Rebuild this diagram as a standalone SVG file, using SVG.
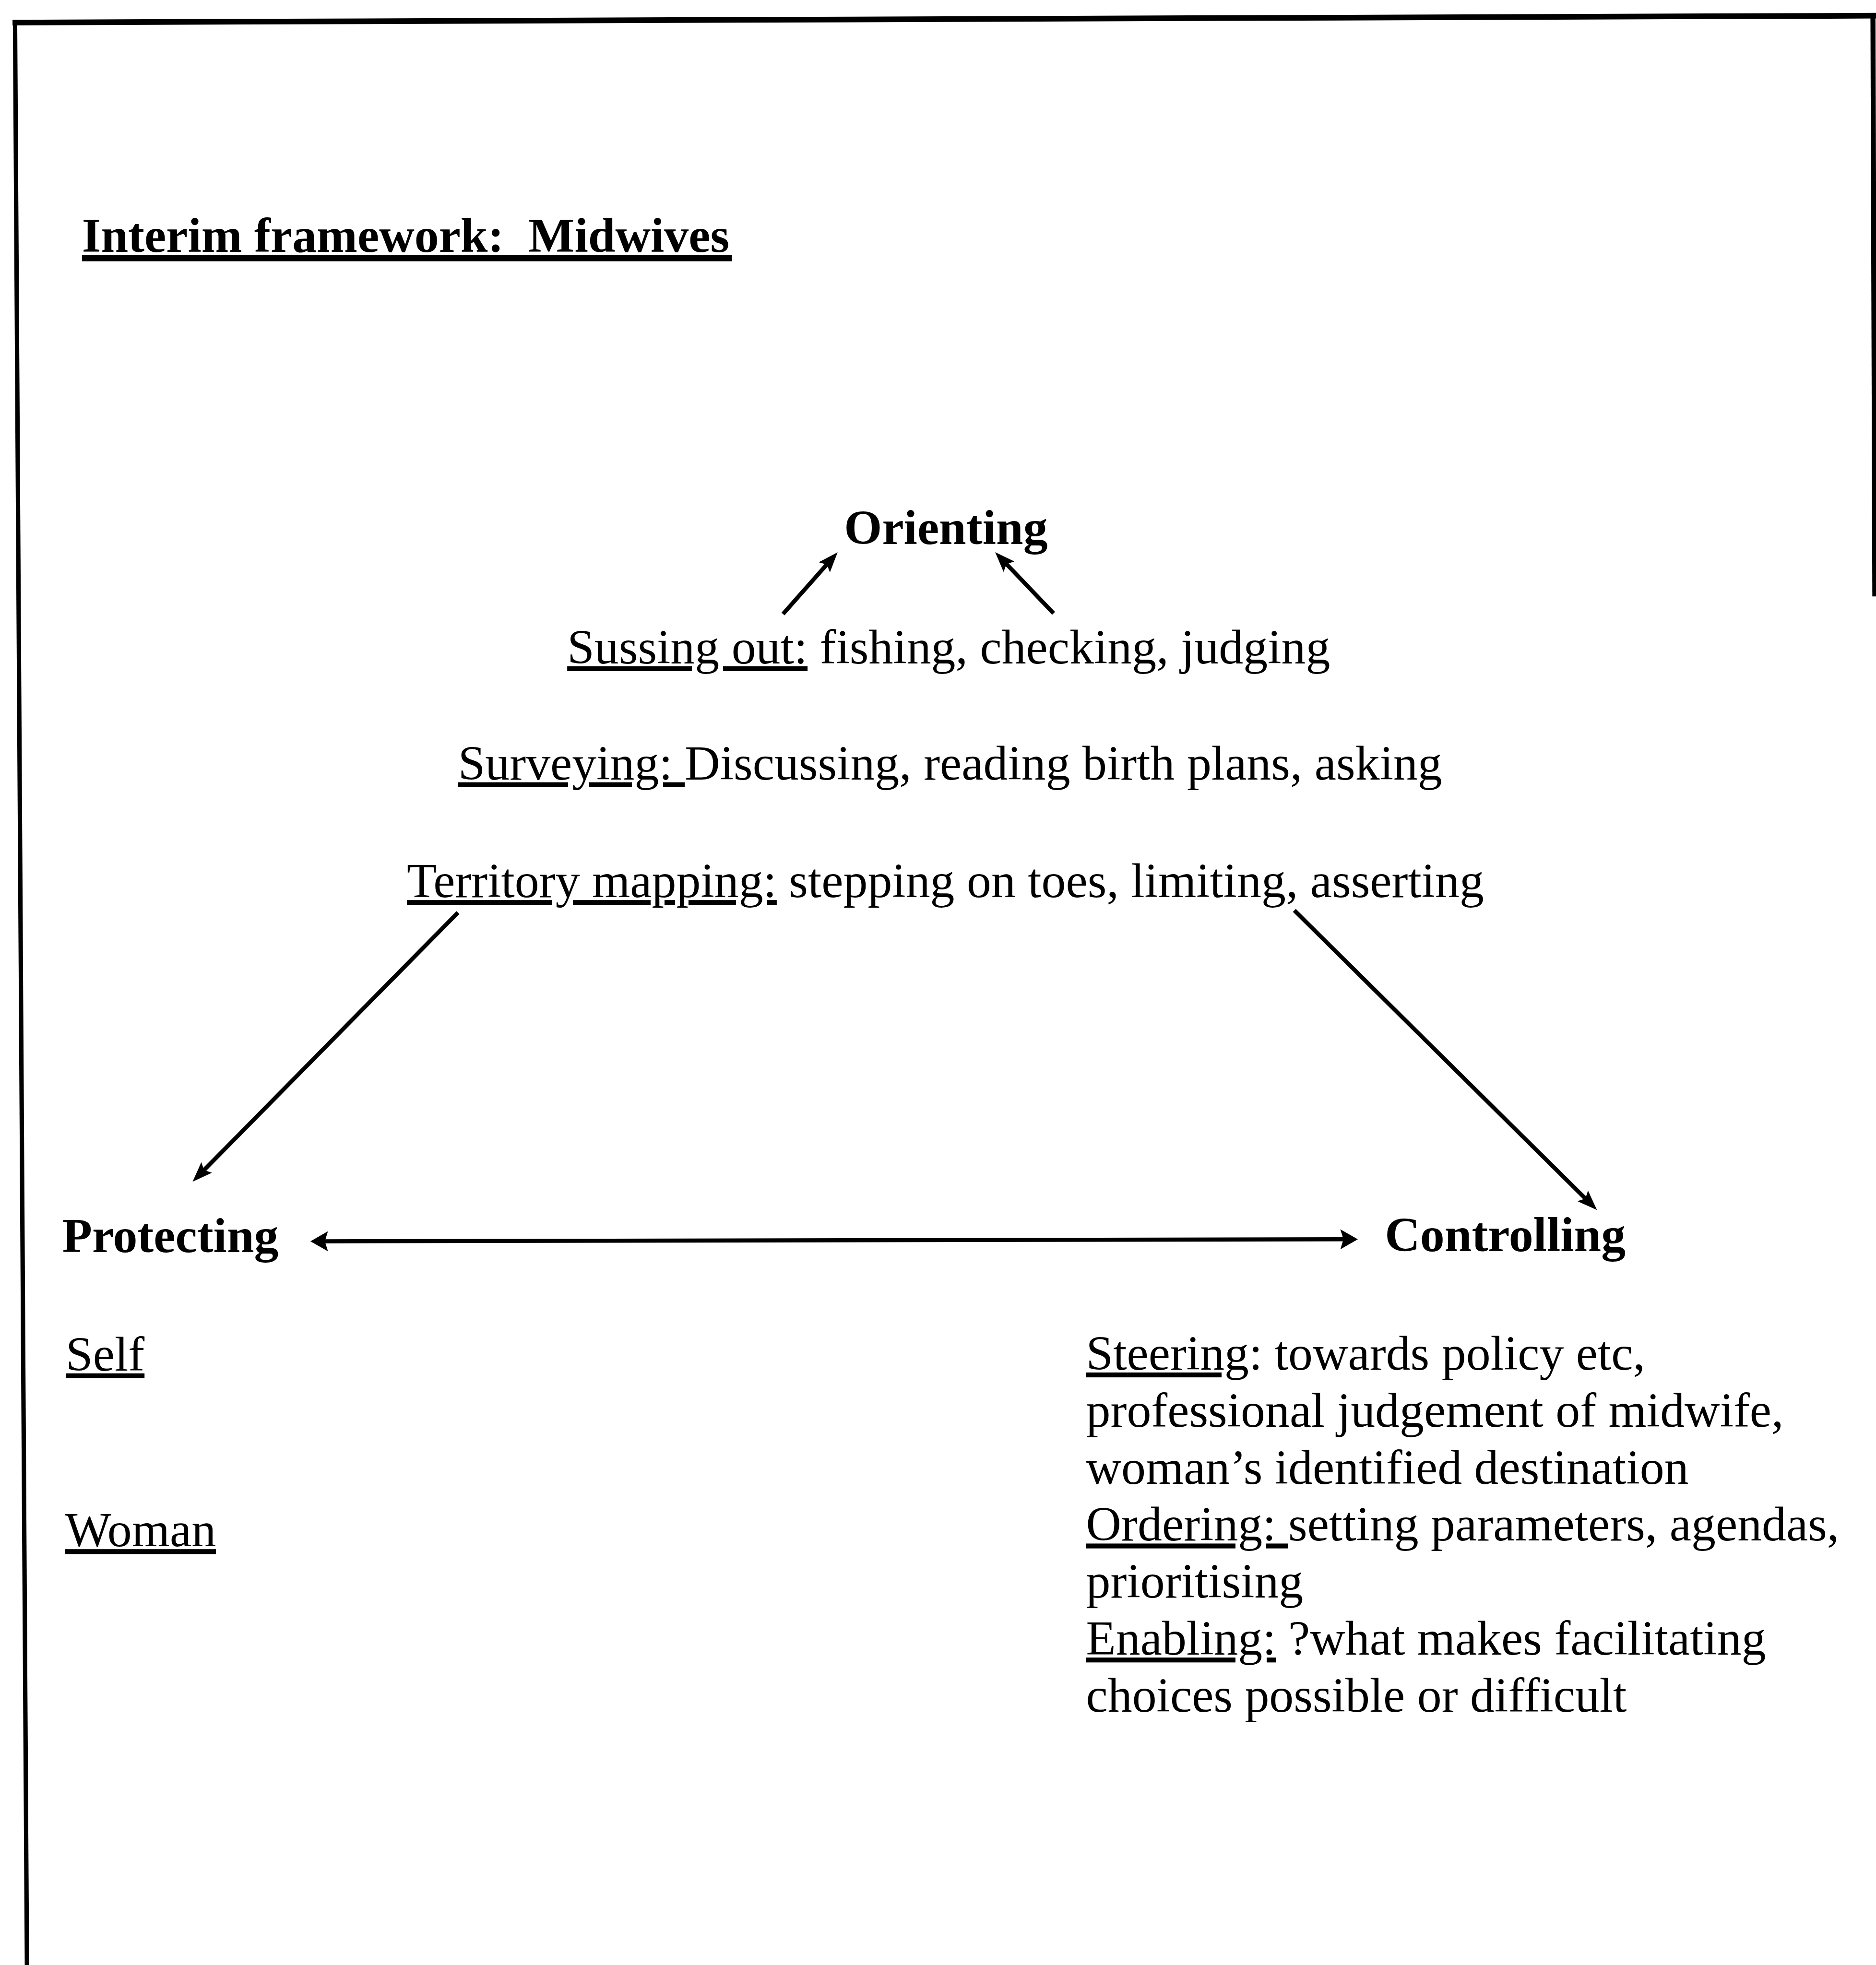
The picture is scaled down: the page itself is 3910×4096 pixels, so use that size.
<svg xmlns="http://www.w3.org/2000/svg" width="3910" height="4096" viewBox="0 0 3910 4096">
<style>
text { font-family: "Liberation Serif", "Times New Roman", serif; font-size: 39px; fill: #000; }
.b { font-weight: bold; }
.u { text-decoration: underline; }
.conn { stroke: #000; stroke-width: 3.3; fill: none; }
.frame { stroke: #000; fill: none; stroke-linecap: butt; }
</style>
<defs>
<marker id="ah" markerUnits="userSpaceOnUse" viewBox="0 0 16 12" markerWidth="16" markerHeight="12" refX="7" refY="6" orient="auto-start-reverse">
<path d="M0,0 L16,6 L0,12 L3,6 Z" fill="#000"/>
</marker>
<marker id="ah2" markerUnits="userSpaceOnUse" viewBox="0 0 14 16" markerWidth="14" markerHeight="16" refX="5" refY="8" orient="auto-start-reverse">
<path d="M0,0 L14,8 L0,16 L2.5,8 Z" fill="#000"/>
</marker>
</defs>
<rect width="3910" height="4096" fill="#fff"/>
<g transform="scale(2.612)">
<g id="frame">
<line class="frame" x1="10" y1="18" x2="1497" y2="12.5" stroke-width="4.5"/>
<line class="frame" x1="12" y1="16" x2="21.5" y2="1570" stroke-width="3.5"/>
<line class="frame" x1="1494.5" y1="11" x2="1496" y2="476" stroke-width="4"/>
</g>
<g id="title">
<text class="b" x="65.4" y="201" xml:space="preserve">Interim framework:  Midwives</text>
<rect x="65.4" y="203.5" width="518.6" height="5" fill="#000"/>
</g>
<g id="orienting">
<text class="b" x="673.5" y="434">Orienting</text>
</g>
<g id="sussing-out">
<text x="452.6" y="529.4" xml:space="preserve"><tspan class="u">Sussing out:</tspan> fishing, checking, judging</text>
</g>
<g id="surveying">
<text x="365.5" y="622" xml:space="preserve"><tspan class="u">Surveying: </tspan>Discussing, reading birth plans, asking</text>
</g>
<g id="territory-mapping">
<text x="324.7" y="716" xml:space="preserve"><tspan class="u">Territory mapping:</tspan> stepping on toes, limiting, asserting</text>
</g>
<g id="protecting">
<text class="b" x="49.7" y="999.4">Protecting</text>
</g>
<g id="controlling">
<text class="b" x="1105" y="998.5">Controlling</text>
</g>
<g id="self">
<text class="u" x="52.5" y="1093.7">Self</text>
</g>
<g id="woman">
<text class="u" x="52" y="1234">Woman</text>
</g>
<g id="controlling-details">
<text x="866.6" y="1093" xml:space="preserve"><tspan class="u">Steering</tspan>: towards policy etc,</text>
<text x="866.6" y="1138.5">professional judgement of midwife,</text>
<text x="866.6" y="1184">woman’s identified destination</text>
<text x="866.6" y="1229.5" xml:space="preserve"><tspan class="u">Ordering: </tspan>setting parameters, agendas,</text>
<text x="866.6" y="1275">prioritising</text>
<text x="866.6" y="1320.5" xml:space="preserve"><tspan class="u">Enabling:</tspan> ?what makes facilitating</text>
<text x="866.6" y="1366">choices possible or difficult</text>
</g>
<g id="connectors">
<line class="conn" x1="624.8" y1="490" x2="662.4" y2="447.5" marker-end="url(#ah)"/>
<line class="conn" x1="840.7" y1="489.5" x2="800.3" y2="447.2" marker-end="url(#ah)"/>
<line class="conn" x1="365.4" y1="728.3" x2="160.0" y2="936.6" marker-end="url(#ah)"/>
<line class="conn" x1="1032.8" y1="726.5" x2="1267.9" y2="959.3" marker-end="url(#ah)"/>
<line class="conn" x1="256.7" y1="990.6" x2="1074.5" y2="989" stroke-width="3.8" marker-start="url(#ah2)" marker-end="url(#ah2)"/>
</g>
</g>
</svg>
